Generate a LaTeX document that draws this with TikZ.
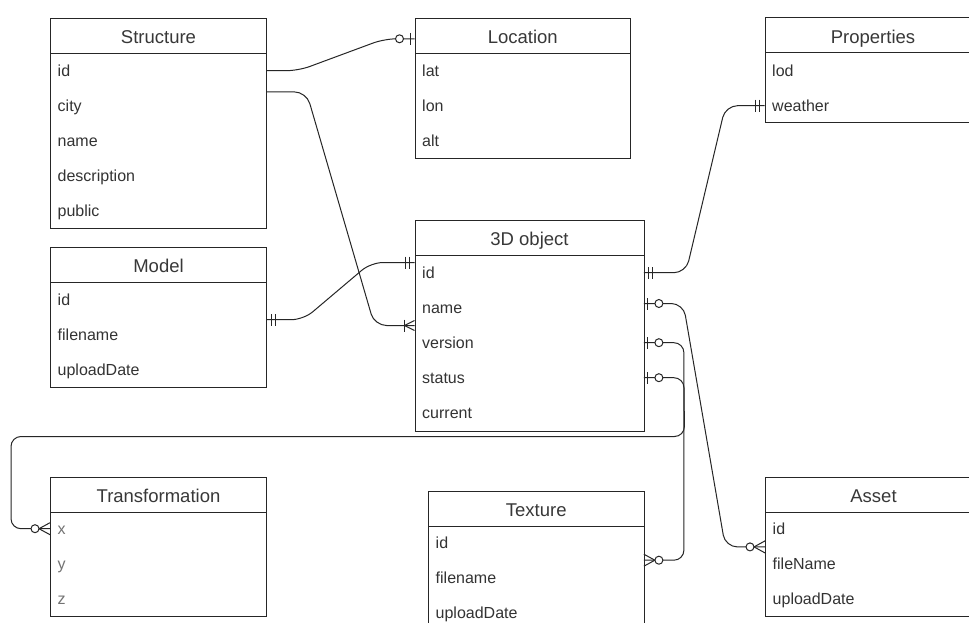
\documentclass[tikz,border=0pt]{standalone}
\usepackage{fontspec}
\setmainfont{Liberation Sans}
\tikzset{
  conn/.style={draw=black!85, line width=1pt},
  ttl/.style={draw=black!85, line width=1pt, minimum height=35pt, inner sep=0pt, anchor=north west,
    text height=16pt, text depth=0.4pt,
    font=\fontsize{18.5}{20}\selectfont, text=black!78},
  bdy/.style={draw=black!85, line width=1pt, inner sep=0pt, anchor=north west},
  row/.style={anchor=north west, minimum height=35pt, inner xsep=7.5pt, inner ysep=0pt, align=left,
    text height=13pt, text depth=1pt,
    font=\fontsize{16}{18}\selectfont, text=black!80},
  grayrow/.style={row, text=black!55},
  mandone/.pic={\draw[conn] (-5,-6) -- (-5,6) (-9,-6) -- (-9,6);},
  zeroone/.pic={\draw[conn] (-4,-6) -- (-4,6); \draw[conn, fill=white] (-15,0) circle (4pt);},
  onemany/.pic={\draw[conn] (-10,-6) -- (-10,6); \draw[conn] (0,-5) -- (-10,0) -- (0,5);},
  zeromany/.pic={\draw[conn] (0,-6) -- (-11,0) -- (0,6); \draw[conn, fill=white] (-15,0) circle (4pt);},
}
\begin{document}
\begin{tikzpicture}[x=1pt,y=-1pt]
\clip (0,0) rectangle (969,623);
\fill[white] (0,0) rectangle (969,623);

% Structure
\node[ttl, minimum width=216pt] (s-t) at (50,18) {Structure};
\node[bdy, minimum width=216pt, minimum height=175pt] (s-b) at (50,53) {};
\node[row, text width=201pt] (s-id) at (50,53) {id};
\node[row, text width=201pt] (s-city) at (50,88) {city};
\node[row, text width=201pt] (s-name) at (50,123) {name};
\node[row, text width=201pt] (s-desc) at (50,158) {description};
\node[row, text width=201pt] (s-pub) at (50,193) {public};

% Location
\node[ttl, minimum width=215.5pt] (l-t) at (414.5,18) {Location};
\node[bdy, minimum width=215.5pt, minimum height=105pt] (l-b) at (414.5,53) {};
\node[row, text width=200.5pt] (l-lat) at (414.5,53) {lat};
\node[row, text width=200.5pt] (l-lon) at (414.5,88) {lon};
\node[row, text width=200.5pt] (l-alt) at (414.5,123) {alt};

% Properties
\node[ttl, minimum width=216pt] (p-t) at (764.5,17.5) {Properties};
\node[bdy, minimum width=216pt, minimum height=70pt] (p-b) at (764.5,52.5) {};
\node[row, text width=201pt] (p-lod) at (764.5,53) {lod};
\node[row, text width=201pt] (p-weather) at (764.5,88) {weather};

% Model
\node[ttl, minimum width=216pt] (m-t) at (50,247) {Model};
\node[bdy, minimum width=216pt, minimum height=105pt] (m-b) at (50,282) {};
\node[row, text width=201pt] (m-id) at (50,282) {id};
\node[row, text width=201pt] (m-file) at (50,317) {filename};
\node[row, text width=201pt] (m-date) at (50,352) {uploadDate};

% 3D object
\node[ttl, minimum width=229pt] (o-t) at (414.5,220) {3D object};
\node[bdy, minimum width=229pt, minimum height=175.5pt] (o-b) at (414.5,255) {};
\node[row, text width=214pt] (o-id) at (414.5,255) {id};
\node[row, text width=214pt] (o-name) at (414.5,290) {name};
\node[row, text width=214pt] (o-version) at (414.5,325) {version};
\node[row, text width=214pt] (o-status) at (414.5,360) {status};
\node[row, text width=214pt] (o-current) at (414.5,395) {current};

% Transformation
\node[ttl, minimum width=216pt] (tr-t) at (50,476.5) {Transformation};
\node[bdy, minimum width=216pt, minimum height=104.5pt] (tr-b) at (50,511.5) {};
\node[grayrow, text width=201pt] (tr-x) at (50,511) {x};
\node[grayrow, text width=201pt] (tr-y) at (50,546) {y};
\node[grayrow, text width=201pt] (tr-z) at (50,581) {z};

% Texture
\node[ttl, minimum width=215.5pt] (t-t) at (428,490.5) {Texture};
\node[bdy, minimum width=215.5pt, minimum height=115pt] (t-b) at (428,525.5) {};
\node[row, text width=200.5pt] (t-id) at (428,525) {id};
\node[row, text width=200.5pt] (t-file) at (428,560) {filename};
\node[row, text width=200.5pt] (t-date) at (428,595) {uploadDate};

% Asset
\node[ttl, minimum width=216pt] (a-t) at (765,476.5) {Asset};
\node[bdy, minimum width=216pt, minimum height=104.5pt] (a-b) at (765,511.5) {};
\node[row, text width=201pt] (a-id) at (765,511) {id};
\node[row, text width=201pt] (a-file) at (765,546) {fileName};
\node[row, text width=201pt] (a-date) at (765,581) {uploadDate};

% connectors
\draw[conn, rounded corners=12pt] (s-id.east) -- ++(32,0)
  -- ([xshift=-30pt,yshift=-2.8pt]l-t.west) -- ([yshift=-2.8pt]l-t.west);
\draw[conn, rounded corners=12pt] ([yshift=13.8pt]s-city.east) -- ++(40,0)
  -- ([xshift=-40pt,yshift=-17.8pt]o-name.west) -- ([yshift=-17.8pt]o-name.west);
\draw[conn, rounded corners=12pt] ([yshift=-20pt]m-id.east) -- ++(37,0)
  -- ([xshift=-43.5pt,yshift=10.2pt]o-id.west) -- ([yshift=10.2pt]o-id.west);
\draw[conn, rounded corners=12pt] (o-id.east) -- ++(42,0)
  -- ([xshift=-39pt]p-weather.west) -- (p-weather.west);
\draw[conn, rounded corners=12pt] ([yshift=4.2pt]o-name.east) -- ++(39.4,0)
  -- ([xshift=-39.7pt,yshift=-18.2pt]a-id.west) -- ([yshift=-18.2pt]a-id.west);
\draw[conn, rounded corners=10pt] (o-version.east) -| ([xshift=40pt,yshift=-17.5pt]t-id.east)
  -- ([yshift=-17.5pt]t-id.east);
\draw[conn, rounded corners=10pt] (o-status.east) -- ++(40,0)
  -- ([xshift=40pt,yshift=-5pt]o-b.south east)
  -| ([xshift=-39pt]tr-x.west) -- (tr-x.west);

% end markers
\pic at ([yshift=-2.8pt]l-t.west) {zeroone};
\pic at ([yshift=-17.8pt]o-name.west) {onemany};
\pic[rotate=180] at ([yshift=-20pt]m-id.east) {mandone};
\pic at ([yshift=10.2pt]o-id.west) {mandone};
\pic[rotate=180] at (o-id.east) {mandone};
\pic at (p-weather.west) {mandone};
\pic[rotate=180] at ([yshift=4.2pt]o-name.east) {zeroone};
\pic at ([yshift=-18.2pt]a-id.west) {zeromany};
\pic[rotate=180] at (o-version.east) {zeroone};
\pic[rotate=180] at ([yshift=-17.5pt]t-id.east) {zeromany};
\pic[rotate=180] at (o-status.east) {zeroone};
\pic at (tr-x.west) {zeromany};
\end{tikzpicture}
\end{document}
